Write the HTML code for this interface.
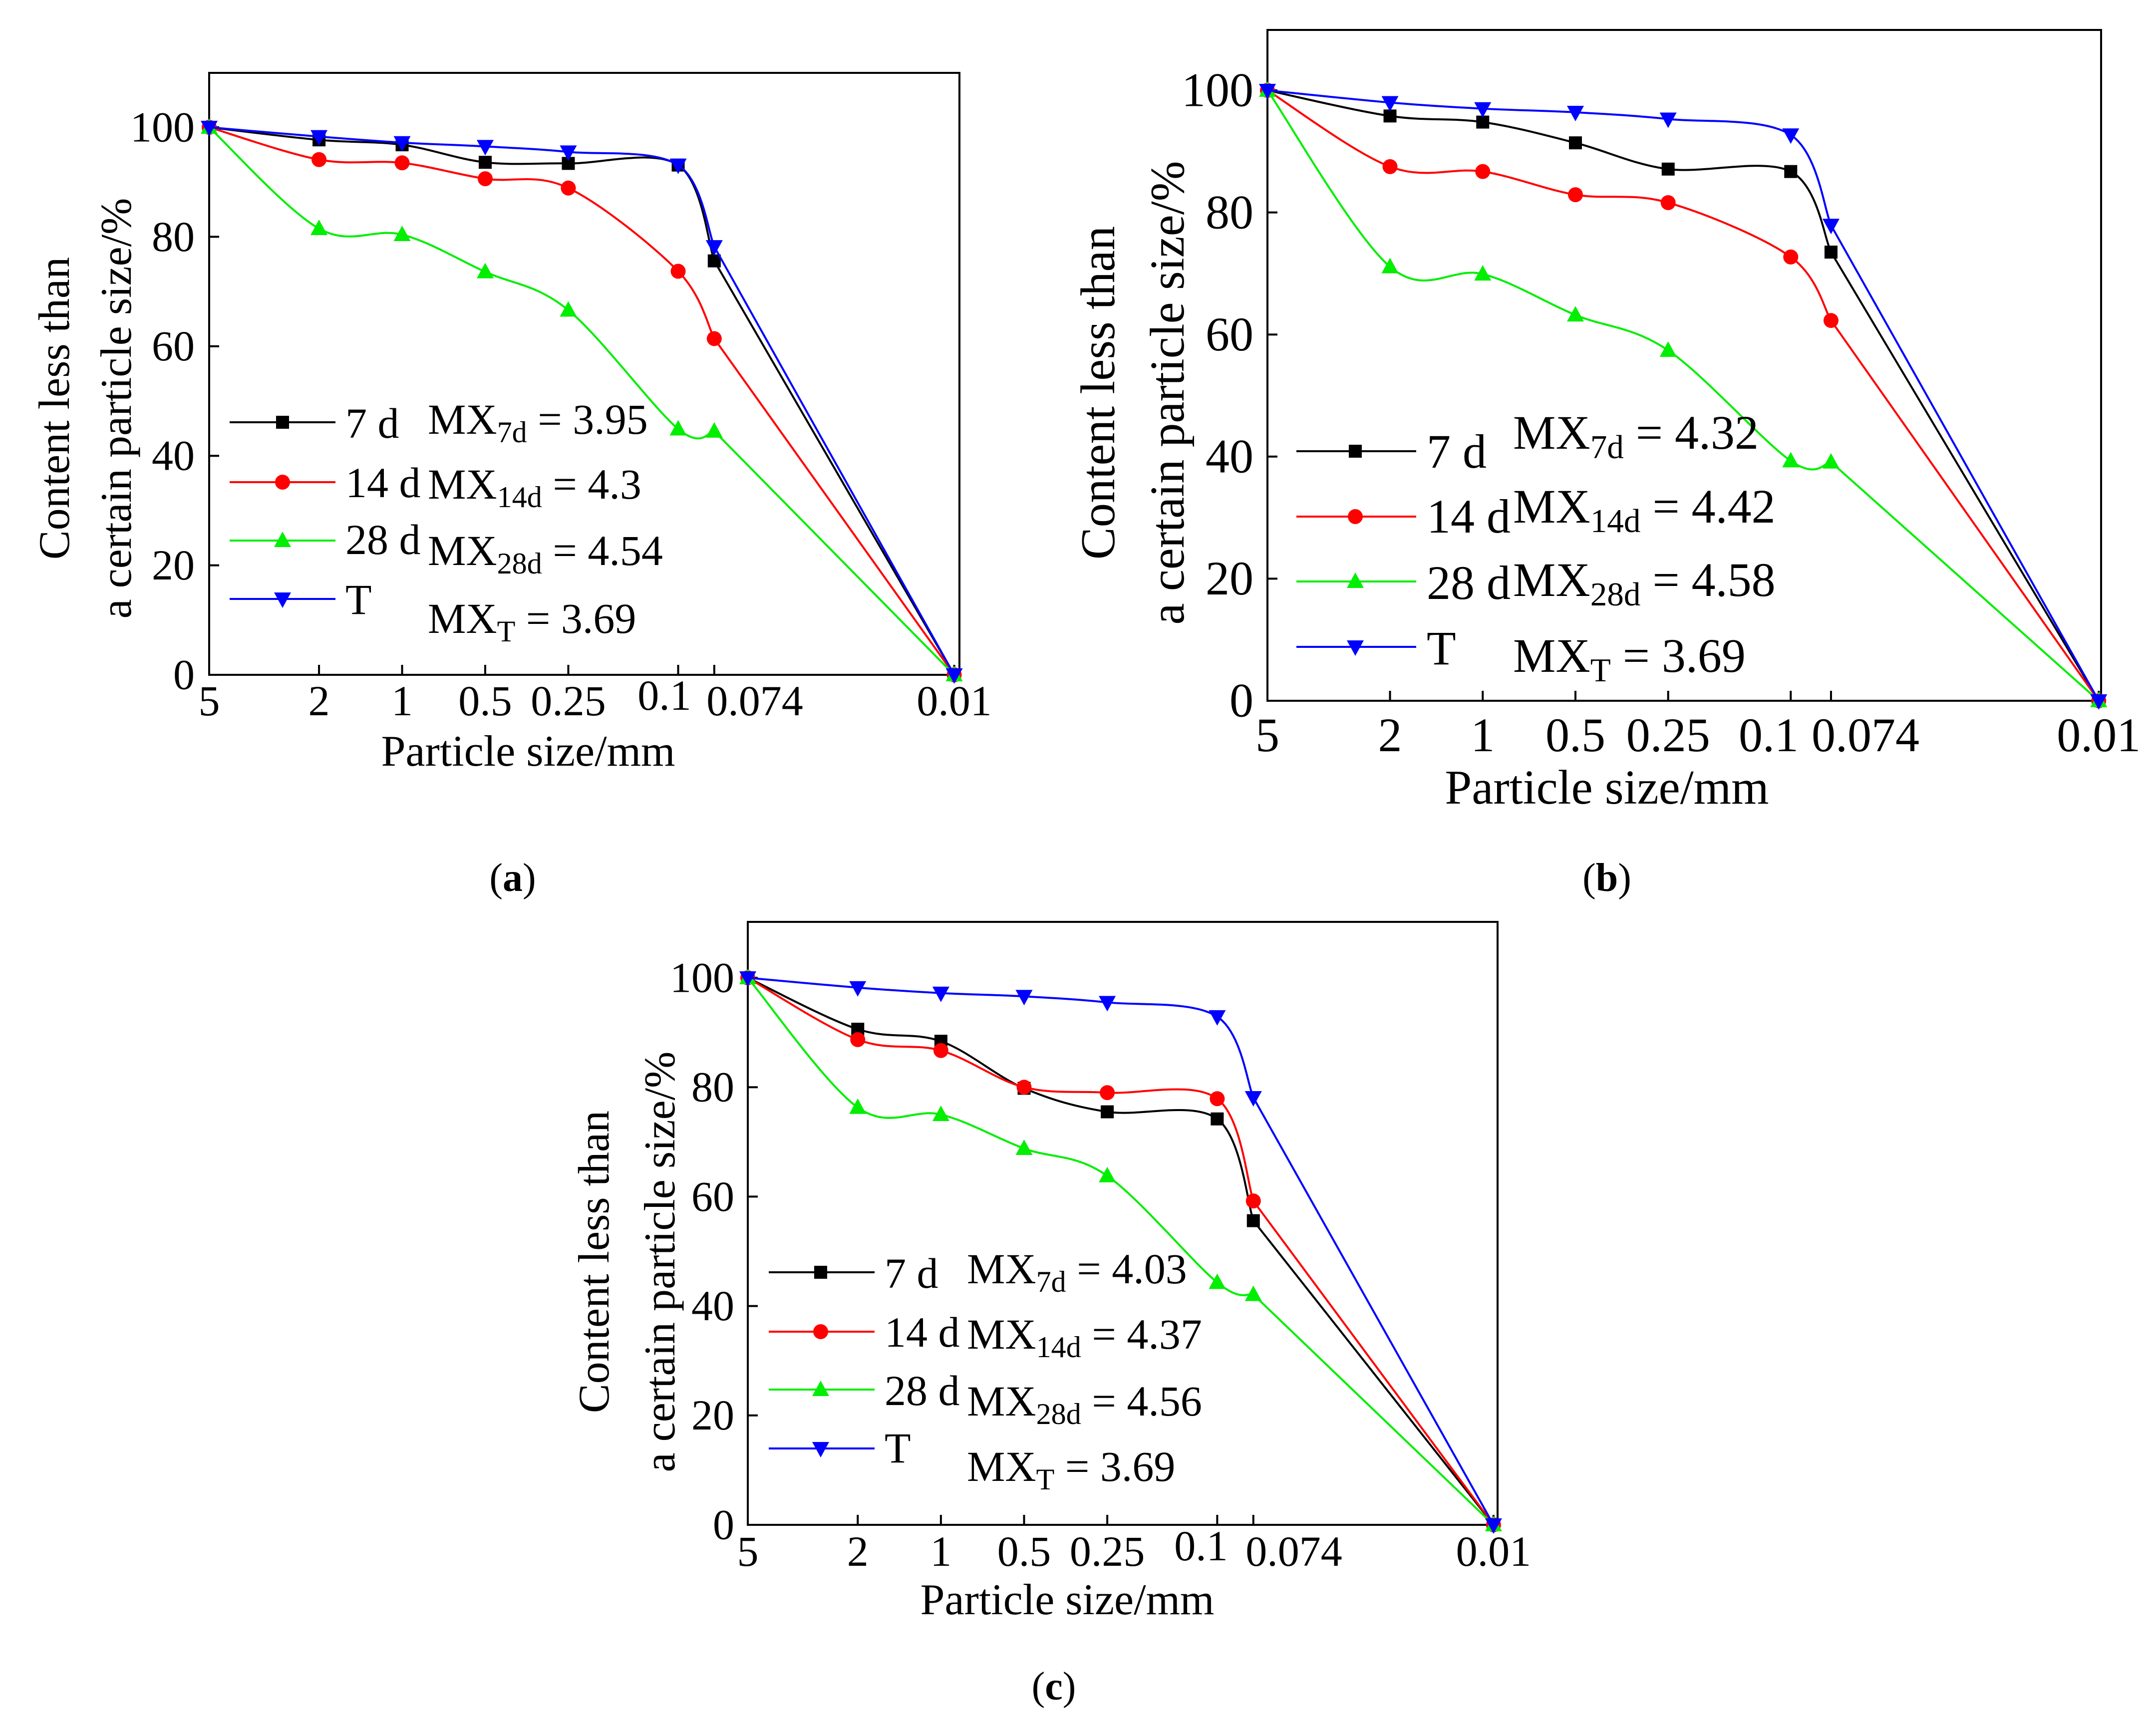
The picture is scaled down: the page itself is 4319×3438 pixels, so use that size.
<!DOCTYPE html>
<html><head><meta charset="utf-8">
<style>
html,body{margin:0;padding:0;background:#fff;}
svg{display:block;}
text{font-family:"Liberation Serif",serif;fill:#000;}
</style></head>
<body>
<svg id="fig" width="4319" height="3438" viewBox="0 0 4319 3438" xmlns="http://www.w3.org/2000/svg" font-family="Liberation Serif, serif"></svg>
<script>
// Shared categories (particle size, mm) and tick labels
const sizes = [5, 2, 1, 0.5, 0.25, 0.1, 0.074, 0.01];
const xTickLabels = ["5","2","1","0.5","0.25","0.1","0.074","0.01"];
const yTicks = [0,20,40,60,80,100];
const seriesNames = ["7 d","14 d","28 d","T"];
// Panel (a)
const a7d  = [100, 97.7, 96.8, 93.6, 93.4, 93.1, 75.6, 0];
const a14d = [100, 94.1, 93.5, 90.6, 88.9, 73.7, 61.4, 0];
const a28d = [100, 81.5, 80.4, 73.6, 66.6, 44.9, 44.5, 0];
const aT   = [100, 98.3, 97.2, 96.5, 95.5, 93.1, 78.2, 0];
const aMX  = ["3.95","4.3","4.54","3.69"];
// Panel (b)
const b7d  = [100, 95.8, 94.8, 91.4, 87.1, 86.7, 73.5, 0];
const b14d = [100, 87.5, 86.7, 82.9, 81.6, 72.7, 62.3, 0];
const b28d = [100, 71.1, 69.9, 63.2, 57.4, 39.3, 39.1, 0];
const bT   = [100, 98.0, 97.0, 96.4, 95.3, 92.7, 77.9, 0];
const bMX  = ["4.32","4.42","4.58","3.69"];
// Panel (c)
const c7d  = [100, 90.6, 88.4, 79.8, 75.5, 74.2, 55.6, 0];
const c14d = [100, 88.7, 86.7, 80.0, 79.0, 77.9, 59.2, 0];
const c28d = [100, 76.3, 75.0, 68.8, 63.8, 44.3, 42.1, 0];
const cT   = [100, 98.2, 97.2, 96.6, 95.5, 92.9, 78.1, 0];
const cMX  = ["4.03","4.37","4.56","3.69"];

const NS = "http://www.w3.org/2000/svg";
const svg = document.getElementById('fig');
const colors = ["#000000","#ff0000","#00ee00","#0000ff"];
const subs = ["7d","14d","28d","T"];
const FF = "Liberation Serif, serif";

function mk(tag, attrs, parent){
  const e = document.createElementNS(NS, tag);
  for (const k in attrs) e.setAttribute(k, attrs[k]);
  if (tag === 'text') e.setAttribute('font-family', FF);
  parent.appendChild(e);
  return e;
}

const panels = [
  {id:"a", data:[a7d,a14d,a28d,aT], mx:aMX, L:419, R:1922, T:146, y0:1352, y100:255, x0:419, dec:553, fs:86, tfs:88,
   ytr:390, xlb:1433, lab01:1331, lab074:1512, xtx:1058, xty:1534, ytl:[107,231], ytc:818,
   legY:[846,966,1083,1200], legX1:460, legX2:672, legM:566, legLX:692, legLB:[877,996,1110,1230],
   mxX:857, mxB:[869,999,1132,1268], cap:[1027,1785]},
  {id:"b", data:[b7d,b14d,b28d,bT], mx:bMX, L:2539, R:4209, T:60, y0:1404, y100:181, x0:2539, dec:617, fs:96, tfs:97,
   ytr:2511, xlb:1505, lab01:3543, lab074:3737, xtx:3219, xty:1610, ytl:[2198,2337], ytc:787,
   legY:[904,1035,1165,1296], legX1:2597, legX2:2837, legM:2715, legLX:2858, legLB:[937,1067,1200,1331],
   mxX:3031, mxB:[899,1047,1194,1346], cap:[3219,1785]},
  {id:"c", data:[c7d,c14d,c28d,cT], mx:cMX, L:1498, R:3000, T:1847, y0:3055, y100:1959, x0:1498, dec:553.5, fs:86, tfs:88,
   ytr:1471, xlb:3137, lab01:2406, lab074:2592, xtx:2138, xty:3234, ytl:[1188,1320], ytc:2528,
   legY:[2549,2668,2784,2902], legX1:1540, legX2:1752, legM:1644, legLX:1772, legLB:[2580,2698,2815,2930],
   mxX:1937, mxB:[2571,2702,2836,2967], cap:[2111,3405]}
];

function marker(g, k, x, y, c){
  let e;
  if (k===0) e = mk('rect',{x:x-13,y:y-13,width:26,height:26,fill:c},g);
  else if (k===1) e = mk('circle',{cx:x,cy:y,r:15,fill:c},g);
  else if (k===2) e = mk('polygon',{points:`${x},${y-18} ${x+17},${y+13} ${x-17},${y+13}`,fill:c},g);
  else e = mk('polygon',{points:`${x},${y+18} ${x+17},${y-13} ${x-17},${y-13}`,fill:c},g);
  
  
  return e;
}

function curvePath(pts){
  let d = `M${pts[0][0]},${pts[0][1]}`;
  const n = pts.length;
  for (let i=0;i<n-2;i++){
    const p0 = pts[Math.max(0,i-1)], p1 = pts[i], p2 = pts[i+1], p3 = pts[Math.min(n-2,i+2)];
    const c1x = p1[0]+(p2[0]-p0[0])/6, c1y = p1[1]+(p2[1]-p0[1])/6;
    const c2x = p2[0]-(p3[0]-p1[0])/6, c2y = p2[1]-(p3[1]-p1[1])/6;
    d += ` C${c1x},${c1y} ${c2x},${c2y} ${p2[0]},${p2[1]}`;
  }
  d += ` L${pts[n-1][0]},${pts[n-1][1]}`;
  return d;
}

panels.forEach(P=>{
  const g = mk('g',{},svg);
  
  
  const xs = v => P.x0 + Math.log10(5/v)*P.dec;
  const ys = v => P.y0 - (v/100)*(P.y0-P.y100);

  const frame = mk('rect',{x:P.L,y:P.T,width:P.R-P.L,height:P.y0-P.T,fill:"none",stroke:"#000","stroke-width":4},g);
  
  

  yTicks.forEach(t=>{
    const y = ys(t);
    const tk = mk('line',{x1:P.L,x2:P.L+20,y1:y,y2:y,stroke:"#000","stroke-width":4},g);
    
    
    const tl = mk('text',{x:P.ytr,y:y+P.fs*0.33,"font-size":P.fs,"text-anchor":"end"},g);
    tl.textContent = t;
    
    
  });
  sizes.forEach((s,i)=>{
    const x = xs(s);
    const tk = mk('line',{x1:x,x2:x,y1:P.y0,y2:P.y0-20,stroke:"#000","stroke-width":4},g);
    
    
    let lx = x, ly = P.xlb;
    if (i===5){ lx = P.lab01; ly = P.xlb - (P.id==="b"?0:11); }
    if (i===6) lx = P.lab074;
    const tl = mk('text',{x:lx,y:ly,"font-size":P.fs,"text-anchor":"middle"},g);
    tl.textContent = xTickLabels[i];
    
    
  });
  const xt = mk('text',{x:P.xtx,y:P.xty,"font-size":P.tfs,"text-anchor":"middle"},g);
  xt.textContent = "Particle size/mm";
  
  
  ["Content less than","a certain particle size/%"].forEach((s,j)=>{
    const x = P.ytl[j] + P.tfs*0.35;
    const t = mk('text',{x:x,y:P.ytc,"font-size":P.tfs,"text-anchor":"middle",transform:`rotate(-90 ${x} ${P.ytc})`},g);
    t.textContent = s;
    
    
  });

  P.data.forEach((vals,k)=>{
    const sg = mk('g',{},g);
    
    
    const pts = vals.map((v,i)=>[xs(sizes[i]), ys(v)]);
    const path = mk('path',{d:curvePath(pts),fill:"none",stroke:colors[k],"stroke-width":4},sg);
    
    
    pts.forEach(p=>marker(sg,k,p[0],p[1],colors[k]));
  });

  const lg = mk('g',{},g);
  
  
  seriesNames.forEach((nm,k)=>{
    const ln = mk('line',{x1:P.legX1,x2:P.legX2,y1:P.legY[k],y2:P.legY[k],stroke:colors[k],"stroke-width":4},lg);
    
    
    marker(lg,k,P.legM,P.legY[k],colors[k]);
    const lt = mk('text',{x:P.legLX,y:P.legLB[k],"font-size":P.fs},lg);
    lt.textContent = nm;
    
    
    const mt = mk('text',{x:P.mxX,y:P.mxB[k],"font-size":P.fs},lg);
    
    
    const t1 = mk('tspan',{},mt); t1.textContent = "MX";
    const t2 = mk('tspan',{dy:P.fs*0.2,"font-size":P.fs*0.7},mt); t2.textContent = subs[k];
    const t3 = mk('tspan',{dy:-P.fs*0.2},mt); t3.textContent = " = " + P.mx[k];
  });

  const cap = mk('text',{x:P.cap[0],y:P.cap[1],"font-size":80,"text-anchor":"middle"},g);
  
  
  const c1 = mk('tspan',{},cap); c1.textContent = "(";
  const c2 = mk('tspan',{"font-weight":"bold"},cap); c2.textContent = P.id;
  const c3 = mk('tspan',{},cap); c3.textContent = ")";
});
</script>
</body></html>
